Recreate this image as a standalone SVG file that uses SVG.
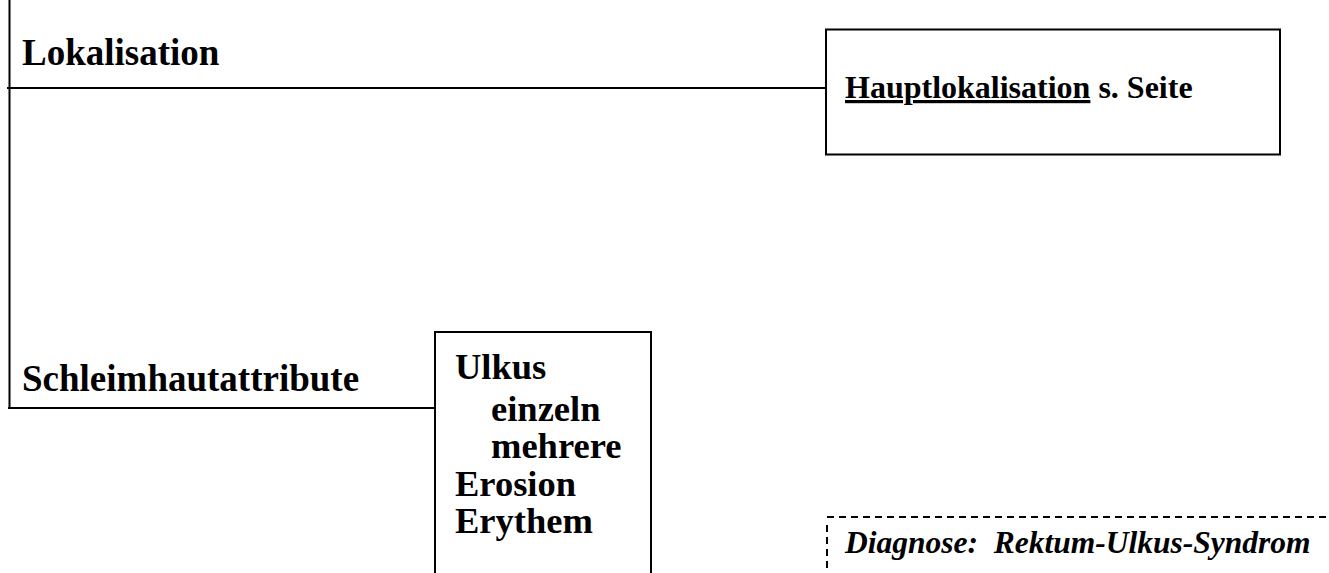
<svg xmlns="http://www.w3.org/2000/svg" width="1329" height="573" viewBox="0 0 1329 573">
<style>
.t{font-family:"Liberation Serif","Times New Roman",serif;font-weight:bold;fill:#000}
.box{fill:#fff;stroke:#000;stroke-width:2}
.ln{stroke:#000;stroke-width:2;fill:none}
.dash{stroke:#000;stroke-width:2;fill:none;stroke-dasharray:7 5}
</style>
<rect width="1329" height="573" fill="#fff"/>
<g id="connectors">
<line class="ln" x1="9.5" y1="0" x2="9.5" y2="409"/>
<line class="ln" x1="7" y1="88" x2="826" y2="88"/>
<line class="ln" x1="8" y1="408" x2="436" y2="408"/>
</g>
<g id="label-lokalisation">
<text class="t" x="22" y="65" font-size="37">Lokalisation</text>
</g>
<g id="label-schleimhaut">
<text class="t" x="22" y="391" font-size="37">Schleimhautattribute</text>
</g>
<g id="node-hauptlokalisation">
<rect class="box" x="826" y="29.5" width="454" height="125"/>
<text class="t" x="845" y="98" font-size="32"><tspan text-decoration="underline">Hauptlokalisation</tspan> s. Seite</text>
</g>
<g id="node-attribute">
<rect class="box" x="435" y="332" width="216" height="260"/>
<text class="t" font-size="36.5">
<tspan x="455" y="379">Ulkus</tspan>
<tspan x="491" y="421">einzeln</tspan>
<tspan x="491" y="458">mehrere</tspan>
<tspan x="455" y="496">Erosion</tspan>
<tspan x="455" y="533">Erythem</tspan>
</text>
</g>
<g id="node-diagnose">
<line class="dash" x1="827" y1="517" x2="1329" y2="517"/>
<line class="dash" x1="827" y1="525" x2="827" y2="573"/>
<text class="t" x="845" y="553" font-size="31.5" font-style="italic" xml:space="preserve">Diagnose:  Rektum-Ulkus-Syndrom</text>
</g>
</svg>
